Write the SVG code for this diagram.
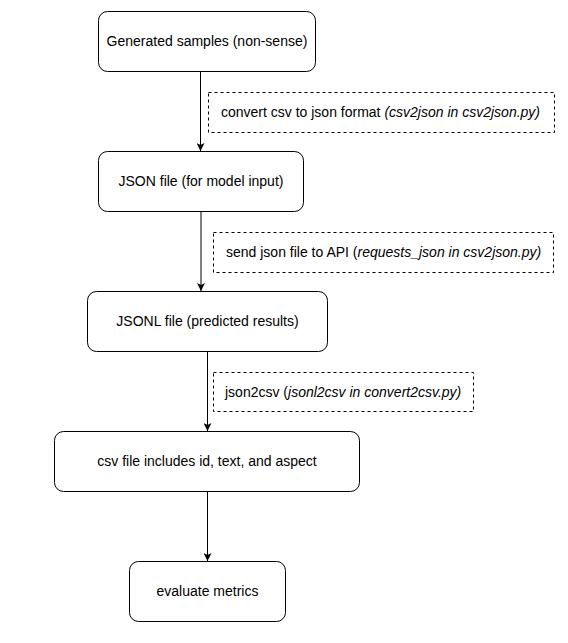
<svg xmlns="http://www.w3.org/2000/svg" width="568" height="643" viewBox="0 0 568 643">
<style>
.node{fill:#fff;stroke:#000;stroke-width:1}
.lbl{fill:#fff;stroke:#000;stroke-width:1;stroke-dasharray:3,3}
text{font-family:"Liberation Sans",Arial,sans-serif;font-size:14px;fill:#000}
.c{text-anchor:middle}
.edge{stroke:#000;stroke-width:1;fill:none;marker-end:url(#arr)}
</style>
<defs>
<marker id="arr" viewBox="0 0 10 10" refX="10" refY="5" markerWidth="8" markerHeight="8" markerUnits="userSpaceOnUse" orient="auto">
<path d="M0,0 L10,5 L0,10 L2.5,5 Z" fill="#000"/>
</marker>
</defs>
<rect width="568" height="643" fill="#fff"/>
<g id="connectors">
<line class="edge" x1="200.5" y1="71" x2="200.5" y2="151"/>
<line class="edge" x1="201" y1="211.5" x2="201" y2="291"/>
<line class="edge" x1="207.5" y1="351.5" x2="207.5" y2="431"/>
<line class="edge" x1="207.5" y1="491.5" x2="207.5" y2="561"/>
</g>
<g id="label1">
<rect class="lbl" x="208.5" y="92.5" width="346" height="40"/>
<text x="221" y="117">convert csv to json format <tspan font-style="italic">(csv2json in csv2json.py)</tspan></text>
</g>
<g id="label2">
<rect class="lbl" x="213.5" y="232.5" width="340" height="40"/>
<text x="226" y="257">send json file to API (<tspan font-style="italic">requests_json in csv2json.py)</tspan></text>
</g>
<g id="label3">
<rect class="lbl" x="213.5" y="372.5" width="260" height="39"/>
<text x="225" y="396.5">json2csv (<tspan font-style="italic">jsonl2csv in convert2csv.py)</tspan></text>
</g>
<g id="node1">
<rect class="node" x="98.5" y="11.5" width="217" height="60" rx="9"/>
<text class="c" x="207" y="46">Generated samples (non-sense)</text>
</g>
<g id="node2">
<rect class="node" x="98.5" y="151.5" width="205" height="60" rx="9"/>
<text class="c" x="201" y="186">JSON file (for model input)</text>
</g>
<g id="node3">
<rect class="node" x="87.5" y="291.5" width="240" height="60" rx="9"/>
<text class="c" x="207.5" y="326">JSONL file (predicted results)</text>
</g>
<g id="node4">
<rect class="node" x="54.5" y="431.5" width="305" height="60" rx="9"/>
<text class="c" x="207" y="466">csv file includes id, text, and aspect</text>
</g>
<g id="node5">
<rect class="node" x="129.5" y="561.5" width="156" height="60" rx="9"/>
<text class="c" x="207.5" y="596">evaluate metrics</text>
</g>
</svg>
